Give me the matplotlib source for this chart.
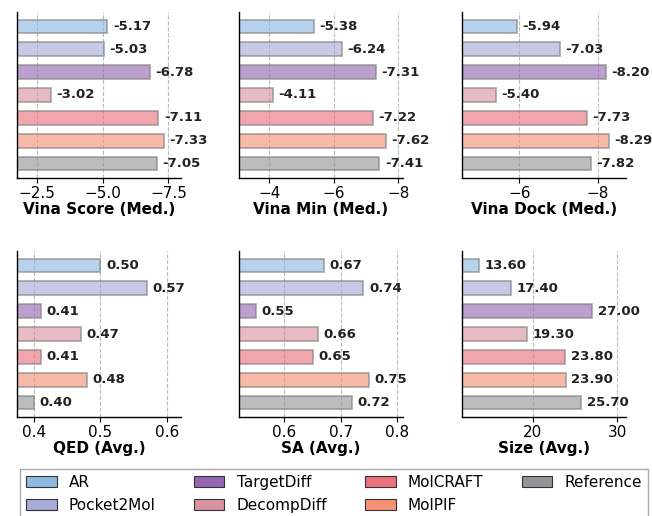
import matplotlib
matplotlib.use("Agg")
import matplotlib.pyplot as plt
from matplotlib.patches import Patch
from matplotlib.ticker import MaxNLocator

plt.rcParams["font.family"] = ["DejaVu Sans"]

methods = ["AR", "Pocket2Mol", "TargetDiff", "DecompDiff", "MolCRAFT", "MolPIF", "Reference"]
colors = ["#8DB9E2", "#A7ACD9", "#9467B0", "#D993A3", "#E9727F", "#F59275", "#949599"]

vina_score = [-5.17, -5.03, -6.78, -3.02, -7.11, -7.33, -7.05]
vina_min = [-5.38, -6.24, -7.31, -4.11, -7.22, -7.62, -7.41]
vina_dock = [-5.94, -7.03, -8.20, -5.40, -7.73, -8.29, -7.82]
qed = [0.50, 0.57, 0.41, 0.47, 0.41, 0.48, 0.40]
sa = [0.67, 0.74, 0.55, 0.66, 0.65, 0.75, 0.72]
size = [13.60, 17.40, 27.00, 19.30, 23.80, 23.90, 25.70]

panels = [
    ("Vina Score (Med.)", vina_score, True),
    ("Vina Min (Med.)", vina_min, True),
    ("Vina Dock (Med.)", vina_dock, True),
    ("QED (Avg.)", qed, False),
    ("SA (Avg.)", sa, False),
    ("Size (Avg.)", size, False),
]

W, H = 652, 516
fig = plt.figure(figsize=(W / 100, H / 100), dpi=100)

col_left = [17, 239, 462]
ax_w = 164
row_top = [12, 251]
ax_h = 166

for i, (label, vals, invert) in enumerate(panels):
    r, c = divmod(i, 3)
    ax = fig.add_axes([col_left[c] / W, 1 - (row_top[r] + ax_h) / H, ax_w / W, ax_h / H])
    ypos = list(range(len(vals)))
    ax.barh(ypos, vals, height=0.6, color=colors, alpha=0.63,
            edgecolor="#808080", linewidth=1.3)
    ax.invert_yaxis()
    lo, hi = min(vals), max(vals)
    rng = hi - lo
    ax.set_xlim(lo - 0.15 * rng, hi + 0.3 * rng)
    if invert:
        ax.invert_xaxis()
    ax.xaxis.set_major_locator(MaxNLocator(nbins=3, steps=[1, 2, 2.5, 5, 10]))
    for y, v in zip(ypos, vals):
        ax.annotate(f"{v:.2f}", xy=(v, y), xytext=(4, 0), textcoords="offset points",
                    ha="left", va="center", fontsize=9.5, fontweight="bold", color="#222222")
    ax.set_yticks([])
    ax.spines["top"].set_visible(False)
    ax.spines["right"].set_visible(False)
    ax.spines["left"].set_linewidth(1.0)
    ax.spines["bottom"].set_linewidth(1.0)
    ax.set_axisbelow(True)
    ax.grid(axis="x", linestyle="--", color="#bbbbbb", linewidth=0.8)
    ax.tick_params(axis="x", labelsize=11, length=3.5, width=0.8, pad=2)
    ax.set_xlabel(label, fontsize=11, fontweight="bold", labelpad=1)

handles = [Patch(facecolor=c, edgecolor="#333333", linewidth=0.8, label=m)
           for m, c in zip(methods, colors)]
fig.legend(handles=handles, loc="upper left", ncol=4, mode="expand",
           bbox_to_anchor=(20 / W, 1 - 469 / H, 628 / W, 0), fontsize=11,
           fancybox=False, edgecolor="#aaaaaa", framealpha=1,
           handlelength=2.0, borderaxespad=0)

fig.savefig("out.png", dpi=100)
